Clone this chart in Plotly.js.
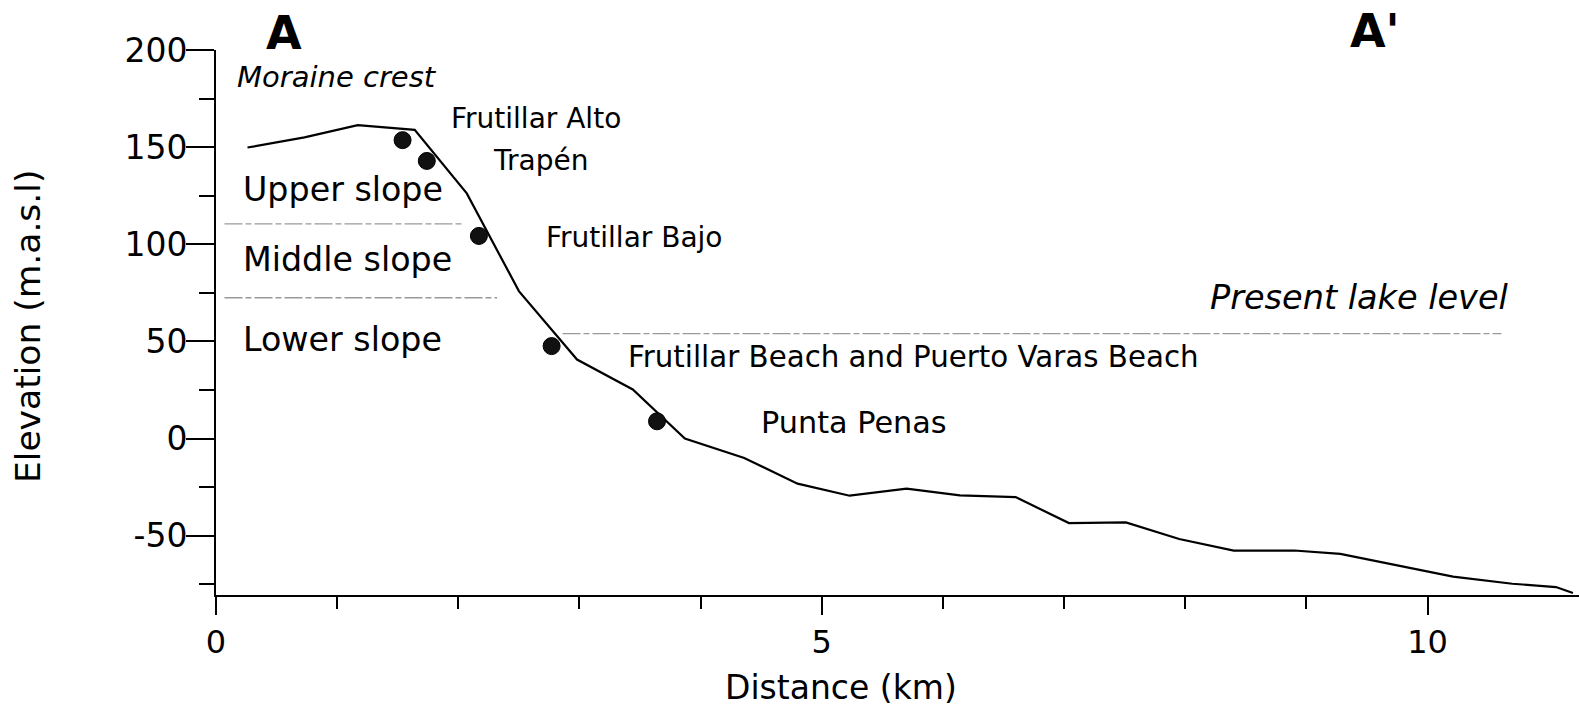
<!DOCTYPE html>
<html>
<head>
<meta charset="utf-8">
<script src="https://cdn.plot.ly/plotly-3.0.1.min.js"></script>
<style>html,body{margin:0;padding:0;background:#fff;}#chart{width:1579px;height:708px;}</style>
</head>
<body>
<div id="chart"></div>
<script>
// Topographic profile A–A'
const profileKm   = [0.26, 0.73, 1.17, 1.64, 2.07, 2.50, 2.98, 3.44, 3.87, 4.36, 4.80, 5.23, 5.70, 6.14, 6.60, 7.04, 7.51, 7.95, 8.40, 8.90, 9.28, 9.72, 10.21, 10.70, 11.06, 11.20];
const profileElev = [149.8, 155.0, 161.3, 158.9, 126.2, 75.9, 40.7, 25.3, 0.0, -10.0, -23.2, -29.4, -25.8, -29.2, -30.1, -43.5, -43.1, -51.7, -57.7, -57.6, -59.3, -64.9, -71.0, -74.7, -76.4, -79.5];

// Sampling sites
const siteKm   = [1.54, 1.74, 2.17, 2.77, 3.64];
const siteElev = [153.6, 142.9, 104.3, 47.6, 8.9];
const siteNames = ["Frutillar Alto", "Trapén", "Frutillar Bajo", "Frutillar Beach and Puerto Varas Beach", "Punta Penas"];

// Slope zone boundaries and present lake level
const upperBoundKm = [0.07, 2.05];   const upperBoundElev = [110.5, 110.5];
const lowerBoundKm = [0.07, 2.32];   const lowerBoundElev = [72.5, 72.5];
const lakeKm       = [2.86, 10.61];  const lakeElev       = [54, 54];

// Axis ticks
const xTickVals = [0, 5, 10];
const xMinorVals = [1, 2, 3, 4, 6, 7, 8, 9];
const yTickVals = [-50, 0, 50, 100, 150, 200];
const yMinorVals = [-75, -25, 25, 75, 125, 175];

const FONT = "DejaVu Sans, Arial, sans-serif";
const dashStyle = "18px,3px,6px,3px";

const traces = [
  {x: upperBoundKm, y: upperBoundElev, mode: "lines", line: {color: "#999", width: 1.4, dash: dashStyle}, hoverinfo: "skip", showlegend: false},
  {x: lowerBoundKm, y: lowerBoundElev, mode: "lines", line: {color: "#999", width: 1.4, dash: dashStyle}, hoverinfo: "skip", showlegend: false},
  {x: lakeKm, y: lakeElev, mode: "lines", line: {color: "#999", width: 1.4, dash: dashStyle}, hoverinfo: "skip", showlegend: false},
  {x: profileKm, y: profileElev, mode: "lines", line: {color: "#000", width: 2.2}, showlegend: false, cliponaxis: false},
  {x: siteKm, y: siteElev, text: siteNames, mode: "markers", marker: {color: "#111", size: 17, line: {color: "#000", width: 1}}, showlegend: false, cliponaxis: false}
];

const ann = (text, x, y, size, opts) => Object.assign({
  text: text, x: x, y: y, xref: "x", yref: "y", showarrow: false,
  xanchor: "center", yanchor: "middle",
  font: {family: FONT, size: size, color: "#000"}
}, opts || {});

const paperAnn = (text, px, py, size, opts) => Object.assign({
  text: text, xref: "paper", yref: "paper", x: (px - 216) / 1363, y: (595 - py) / 545,
  xanchor: "center", yanchor: "middle", showarrow: false,
  font: {family: FONT, size: size, color: "#000"}
}, opts || {});

const annotations = [
  ann("<i>Moraine crest</i>", 0.157, 186.3, 29, {xanchor: "left"}),
  ann(siteNames[0], 2.641, 164.7, 28),
  ann(siteNames[1], 2.682, 143.1, 28),
  ann(siteNames[2], 3.454, 103.4, 28),
  ann(siteNames[3], 5.76, 42.2, 29.3),
  ann(siteNames[4], 5.27, 8.5, 30.3),
  ann("Upper slope", 0.21, 128.4, 33.3, {xanchor: "left"}),
  ann("Middle slope", 0.21, 92.1, 33.3, {xanchor: "left"}),
  ann("Lower slope", 0.21, 51.2, 33.3, {xanchor: "left"}),
  ann("<i>Present lake level</i>", 8.188, 72.5, 33.5, {xanchor: "left"}),
  paperAnn("<b>A</b>", 284, 33, 46),
  paperAnn("<b>A'</b>", 1348, 31, 46, {xanchor: "left"}),
  paperAnn("Distance (km)", 841, 687, 33),
  paperAnn("Elevation (m.a.s.l)", 28, 327, 34.5, {textangle: -90})
];

const layout = {
  width: 1579, height: 708,
  margin: {l: 216, r: 0, t: 50, b: 113},
  paper_bgcolor: "#fff", plot_bgcolor: "#fff",
  font: {family: FONT, color: "#000"},
  showlegend: false,
  xaxis: {
    range: [0, 11.25], showgrid: false, zeroline: false,
    showline: true, linecolor: "#000", linewidth: 2,
    tickmode: "array", tickvals: xTickVals, ticktext: xTickVals.map(String),
    ticks: "outside", ticklen: 18, tickwidth: 2, tickcolor: "#000",
    ticklabelstandoff: 0,
    tickfont: {family: FONT, size: 32, color: "#000"},
    minor: {tickmode: "array", tickvals: xMinorVals, ticks: "outside", ticklen: 12, tickwidth: 2, tickcolor: "#000", showgrid: false},
    fixedrange: true
  },
  yaxis: {
    range: [-80.5, 200], showgrid: false, zeroline: false,
    showline: true, linecolor: "#000", linewidth: 2,
    tickmode: "array", tickvals: yTickVals, ticktext: yTickVals.map(String),
    ticks: "outside", ticklen: 28, tickwidth: 2, tickcolor: "#000",
    ticklabelstandoff: -8,
    tickfont: {family: FONT, size: 33, color: "#000"},
    minor: {tickmode: "array", tickvals: yMinorVals, ticks: "outside", ticklen: 15, tickwidth: 2, tickcolor: "#000", showgrid: false},
    fixedrange: true
  },
  annotations: annotations
};

Plotly.newPlot("chart", traces, layout, {displayModeBar: false, staticPlot: true});
</script>
</body>
</html>
